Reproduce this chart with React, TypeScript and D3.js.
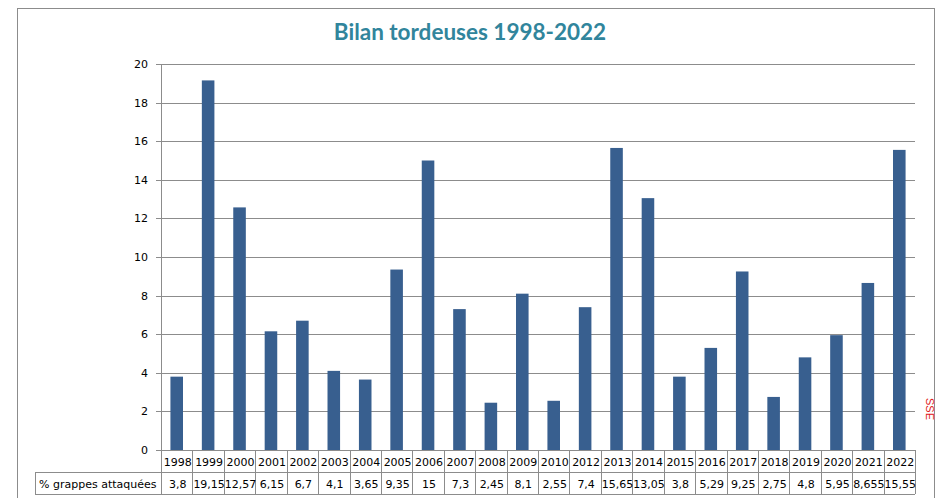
import React, { useEffect, useRef } from "react";
import * as d3 from "d3";

const years = ["1998", "1999", "2000", "2001", "2002", "2003", "2004", "2005", "2006", "2007", "2008", "2009", "2010", "2012", "2013", "2014", "2015", "2016", "2017", "2018", "2019", "2020", "2021", "2022"];
const values = [3.8, 19.15, 12.57, 6.15, 6.7, 4.1, 3.65, 9.35, 15, 7.3, 2.45, 8.1, 2.55, 7.4, 15.65, 13.05, 3.8, 5.29, 9.25, 2.75, 4.8, 5.95, 8.655, 15.55];
const yTicks = [0, 2, 4, 6, 8, 10, 12, 14, 16, 18, 20];
const rowLabel = "% grappes attaquées";
const title = "Bilan tordeuses 1998-2022";

const W = 938, H = 498;

export default function App() {
  const ref = useRef<SVGSVGElement>(null);

  useEffect(() => {
    const svg = d3.select(ref.current);
    svg.selectAll("*").remove();

    const margin = { top: 64, left: 161, right: 23, bottom: 48 };
    const w = W - margin.left - margin.right;
    const h = H - margin.top - margin.bottom;
    const font = "'DejaVu Sans', Verdana, sans-serif";

    svg.append("rect").attr("width", W).attr("height", H).attr("fill", "#fff");
    // outer frame
    svg.append("rect")
      .attr("x", 17.5).attr("y", 8.5).attr("width", 917).attr("height", 500)
      .attr("fill", "none").attr("stroke", "#8c8c8c");

    svg.append("text")
      .attr("x", 470).attr("y", 40)
      .attr("text-anchor", "middle")
      .attr("font-family", "Lato, 'Open Sans', sans-serif")
      .attr("font-weight", "bold")
      .attr("font-size", 22.5)
      .attr("fill", "#31859c")
      .text(title);

    const g = svg.append("g").attr("transform", `translate(${margin.left}, ${margin.top})`);

    const x = d3.scaleBand().domain(years).range([0, w]).paddingInner(0.6).paddingOuter(0.3);
    const y = d3.scaleLinear().domain([0, 20]).range([h, 0]);

    // gridlines
    g.selectAll(".grid")
      .data(yTicks)
      .join("line")
      .attr("x1", -5).attr("x2", w)
      .attr("y1", (d) => Math.round(y(d)) + 0.5)
      .attr("y2", (d) => Math.round(y(d)) + 0.5)
      .attr("stroke", "#8c8c8c");

    g.selectAll(".ylab")
      .data(yTicks)
      .join("text")
      .attr("x", -13)
      .attr("y", (d) => y(d) + 4)
      .attr("text-anchor", "end")
      .attr("font-family", font)
      .attr("font-size", 11)
      .attr("fill", "#000")
      .text((d) => d);

    g.selectAll(".bar")
      .data(values)
      .join("rect")
      .attr("x", (d, i) => x(years[i]))
      .attr("y", (d) => y(d))
      .attr("width", x.bandwidth())
      .attr("height", (d) => h - y(d))
      .attr("fill", "#385f8f");

    // y axis line
    g.append("line")
      .attr("x1", 0.5).attr("x2", 0.5).attr("y1", 0).attr("y2", h + 44)
      .attr("stroke", "#8c8c8c");

    // data table
    const step = x.step();
    const rowH = 22;
    const tbl = g.append("g").attr("transform", `translate(0, ${h})`);
    tbl.append("line").attr("x1", -126).attr("x2", w).attr("y1", rowH + 0.5).attr("y2", rowH + 0.5).attr("stroke", "#8c8c8c");
    tbl.append("line").attr("x1", -126).attr("x2", w).attr("y1", 2 * rowH + 0.5).attr("y2", 2 * rowH + 0.5).attr("stroke", "#8c8c8c");
    tbl.append("line").attr("x1", -125.5).attr("x2", -125.5).attr("y1", rowH).attr("y2", 2 * rowH).attr("stroke", "#8c8c8c");
    tbl.selectAll(".vline")
      .data(years)
      .join("line")
      .attr("x1", (d, i) => Math.round((i + 1) * step) + 0.5)
      .attr("x2", (d, i) => Math.round((i + 1) * step) + 0.5)
      .attr("y1", 0).attr("y2", 2 * rowH)
      .attr("stroke", "#8c8c8c");

    tbl.selectAll(".yr")
      .data(years)
      .join("text")
      .attr("x", (d, i) => (i + 0.5) * step + 1)
      .attr("y", 16)
      .attr("text-anchor", "middle")
      .attr("font-family", font)
      .attr("font-size", 11)
      .text((d) => d);

    tbl.selectAll(".val")
      .data(values)
      .join("text")
      .attr("x", (d, i) => (i + 0.5) * step + 1)
      .attr("y", rowH + 16)
      .attr("text-anchor", "middle")
      .attr("font-family", font)
      .attr("font-size", 11)
      .text((d) => String(d).replace(".", ","));

    tbl.append("text")
      .attr("x", -122).attr("y", rowH + 16)
      .attr("font-family", font)
      .attr("font-size", 11)
      .text(rowLabel);

    svg.append("text")
      .attr("transform", "translate(926, 398) rotate(90)")
      .attr("font-family", "'Liberation Sans', sans-serif")
      .attr("font-size", 11)
      .attr("fill", "#e02020")
      .text("SSE");
  }, []);

  return (
    <svg ref={ref} width={W} height={H} style={{ position: "absolute", left: 0, top: 0 }} />
  );
}
